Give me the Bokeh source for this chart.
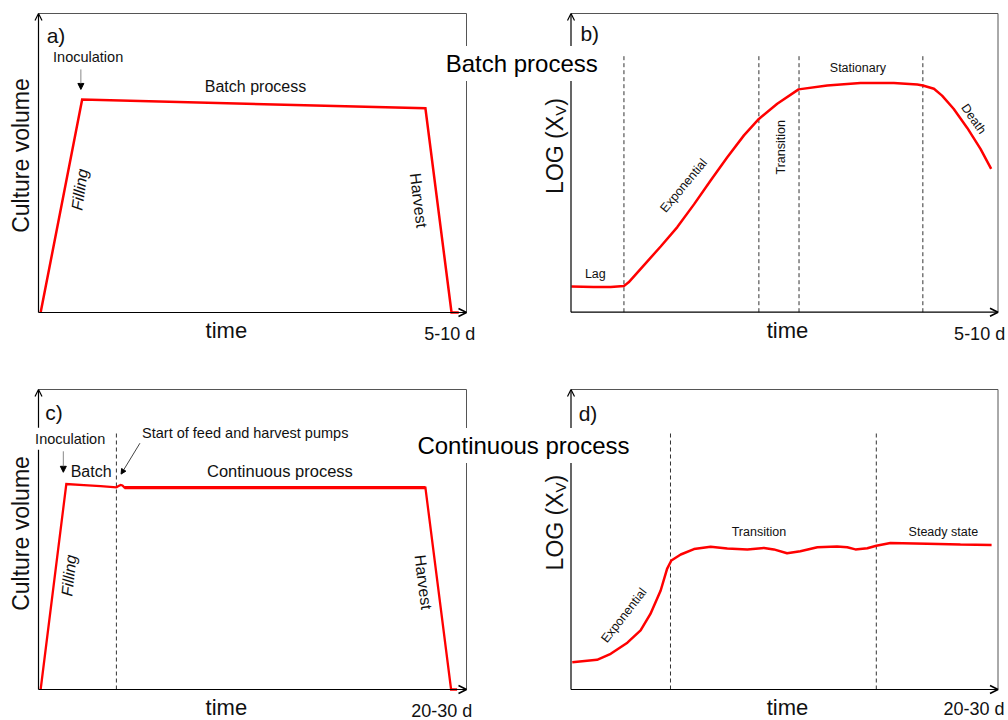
from bokeh.plotting import figure
from bokeh.models import Range1d, Arrow, OpenHead, NormalHead
from bokeh.core.properties import value
from bokeh.embed import file_html
from bokeh.resources import INLINE

W, H = 1008, 720
FONT = value("Liberation Sans")
RED = "#ff0000"
INK = "#111111"

# ---------------- data (time and value in % of each panel's axes) ----------------
# a) batch process: culture volume
a_time = [0.5, 10.2, 90.4, 96.5, 98.2]
a_volume = [0.0, 71.2, 68.3, 0.0, 0.0]

# b) batch process: LOG(Xv)
b_time = [0.1, 5.3, 9.3, 12.4, 13.5, 17.0, 21.0, 24.9, 28.8, 32.7, 36.6, 40.5, 44.0,
          48.3, 53.3, 60.0, 67.8, 75.6, 81.1, 82.4, 85.0, 86.9, 89.6, 92.8, 95.9, 98.4]
b_logxv = [8.6, 8.4, 8.4, 8.8, 10.0, 15.6, 22.0, 28.5, 36.1, 44.1, 51.9, 59.2, 64.7,
           69.8, 74.6, 75.9, 76.7, 76.7, 76.2, 75.9, 74.8, 72.5, 68.1, 61.7, 54.7, 48.0]
b_phase_bounds = [12.4, 44.0, 53.4, 82.4]

# c) continuous process: culture volume
c_time = [0.5, 6.5, 10.6, 14.5, 18.2, 18.7, 19.2, 19.6, 20.1, 20.7, 90.4, 96.4, 97.8]
c_volume = [0.0, 68.5, 68.1, 67.8, 67.4, 67.8, 68.2, 68.0, 67.3, 67.3, 67.3, 0.0, 0.0]
c_pump_start = [18.2]

# d) continuous process: LOG(Xv)
d_time = [0.3, 6.1, 9.3, 13.2, 16.3, 18.6, 21.0, 22.5, 23.5, 25.7, 28.8, 32.7, 36.6,
          41.3, 45.2, 47.5, 50.6, 53.7, 57.7, 62.3, 64.7, 66.6, 69.4, 71.5, 74.8,
          83.4, 91.2, 98.5]
d_logxv = [9.1, 9.9, 11.9, 15.6, 19.7, 25.2, 33.0, 40.2, 43.0, 45.0, 46.8, 47.6, 47.0,
           46.7, 47.2, 46.7, 45.4, 46.1, 47.4, 47.7, 47.4, 46.7, 47.1, 47.9, 48.8,
           48.6, 48.3, 48.2]
d_phase_bounds = [23.3, 71.5]

# ---------------- layout: panel frames in page pixels (left, right, top, bottom) ----------------
PANELS = {
    "a": (38, 466, 13, 312),
    "b": (570.5, 997.5, 13, 311.7),
    "c": (38, 466, 389, 689),
    "d": (570.5, 997.5, 389, 689),
}

p = figure(width=W, height=H, x_range=Range1d(0, W), y_range=Range1d(0, H),
           x_axis_type=None, y_axis_type=None, toolbar_location=None,
           output_backend="svg", min_border=0)
p.outline_line_color = None
p.background_fill_color = "white"
p.border_fill_color = "white"


def txt(r, x, y, s, size, angle=0, align="center", baseline="middle",
        style="normal", color=INK, **kw):
    p.text(x=[x], y=[y], text=[s], text_font=FONT, text_font_size=f"{size}px",
           angle=angle, angle_units="deg", text_align=align, text_baseline=baseline,
           text_font_style=style, text_color=color,
           x_range_name=r, y_range_name=r, **kw)


for name, (L, R, T, B) in PANELS.items():
    kx = 100.0 / (R - L)
    ky = 100.0 / (B - T)
    p.extra_x_ranges[name] = Range1d(-L * kx, (W - L) * kx)
    p.extra_y_ranges[name] = Range1d(-(H - B) * ky, B * ky)
    # frame (top & right)
    p.line(x=[0, 100, 100], y=[100, 100, 0], line_color="#555555", line_width=1,
           x_range_name=name, y_range_name=name)
    # axes with arrows
    p.add_layout(Arrow(end=OpenHead(size=7, line_width=1.2, line_color="black"),
                       x_start=0, y_start=0, x_end=0, y_end=100,
                       line_width=1.2, line_color="black",
                       x_range_name=name, y_range_name=name))
    p.add_layout(Arrow(end=OpenHead(size=8, line_width=1.6, line_color="black"),
                       x_start=0, y_start=0, x_end=100, y_end=0,
                       line_width=1.2, line_color="black",
                       x_range_name=name, y_range_name=name))

# ---------------- panel a ----------------
p.line(a_time, a_volume, line_color=RED, line_width=2.5, line_join="miter",
       x_range_name="a", y_range_name="a")
p.add_layout(Arrow(end=NormalHead(size=6, fill_color="black", line_color="black"),
                   x_start=9.9, y_start=81.3, x_end=9.9, y_end=74.6,
                   line_color="#888888", line_width=1, x_range_name="a", y_range_name="a"))
txt("a", 1.9, 92.8, "a)", 21, align="left")
txt("a", 11.6, 85.6, "Inoculation", 14.5)
txt("a", 50.7, 75.6, "Batch process", 16)
txt("a", 9.6, 41.1, "Filling", 16, angle=82, style="italic")
txt("a", 88.8, 37.5, "Harvest", 16, angle=-83)
txt("a", -4.0, 52.5, "Culture volume", 23, angle=90)
txt("a", 43.9, -6.0, "time", 22)
txt("a", 96.1, -7.1, "5-10 d", 18)

# ---------------- panel b ----------------
p.segment(x0=b_phase_bounds, y0=[0] * len(b_phase_bounds), x1=b_phase_bounds,
          y1=[85.9] * len(b_phase_bounds), line_color="#333333", line_width=1,
          line_dash="4 3", x_range_name="b", y_range_name="b")
p.line(b_time, b_logxv, line_color=RED, line_width=2.5, x_range_name="b", y_range_name="b")
txt("b", 2.2, 93.3, "b)", 21, align="left")
txt("b", 5.7, 12.9, "Lag", 12.5)
txt("b", 26.4, 42.4, "Exponential", 12.5, angle=50)
txt("b", 49.1, 55.2, "Transition", 12.5, angle=90)
txt("b", 67.2, 81.7, "Stationary", 12.5)
txt("b", 94.3, 64.7, "Death", 12.5, angle=-55)
txt("b", -3.7, 39.6, "LOG (X", 23, angle=90, align="left")
txt("b", -2.5, 65.8, "V", 15, angle=90, align="left")
txt("b", -3.7, 69.1, ")", 23, angle=90, align="left")
txt("b", 50.7, -6.1, "time", 22)
txt("b", 95.7, -7.2, "5-10 d", 18)

# ---------------- panel c ----------------
p.segment(x0=c_pump_start, y0=[0], x1=c_pump_start, y1=[85.4], line_color="#333333",
          line_width=1, line_dash="4 3", x_range_name="c", y_range_name="c")
p.line(c_time, c_volume, line_color=RED, line_width=2.3, line_join="miter",
       x_range_name="c", y_range_name="c")
p.line(c_time[8:11], c_volume[8:11], line_color=RED, line_width=3.2,
       x_range_name="c", y_range_name="c")
p.add_layout(Arrow(end=NormalHead(size=6, fill_color="black", line_color="black"),
                   x_start=5.8, y_start=79.4, x_end=5.8, y_end=72.4,
                   line_color="#888888", line_width=1, x_range_name="c", y_range_name="c"))
p.add_layout(Arrow(end=NormalHead(size=5, fill_color="black", line_color="black"),
                   x_start=23.7, y_start=82.1, x_end=19.3, y_end=71.8,
                   line_color="#444444", line_width=1, x_range_name="c", y_range_name="c"))
txt("c", 1.6, 92.4, "c)", 21, align="left")
txt("c", 7.4, 83.6, "Inoculation", 14.5, background_fill_color="white", padding=3,
    level="overlay")
txt("c", 12.3, 72.7, "Batch", 16)
txt("c", 48.3, 85.4, "Start of feed and harvest pumps", 14.5)
txt("c", 56.4, 72.7, "Continuous process", 16.5)
txt("c", 7.1, 38.0, "Filling", 16, angle=84, style="italic")
txt("c", 89.9, 35.8, "Harvest", 16, angle=-83)
txt("c", -4.0, 52.0, "Culture volume", 23, angle=90)
txt("c", 43.9, -5.9, "time", 22)
txt("c", 94.2, -7.0, "20-30 d", 18)

# ---------------- panel d ----------------
p.segment(x0=d_phase_bounds, y0=[0] * len(d_phase_bounds), x1=d_phase_bounds,
          y1=[85.4] * len(d_phase_bounds), line_color="#333333", line_width=1,
          line_dash="4 3", x_range_name="d", y_range_name="d")
p.line(d_time, d_logxv, line_color=RED, line_width=2.5, x_range_name="d", y_range_name="d")
txt("d", 1.8, 91.9, "d)", 21, align="left")
txt("d", 12.4, 24.7, "Exponential", 12.5, angle=52)
txt("d", 44.0, 52.4, "Transition", 12.5)
txt("d", 87.2, 52.4, "Steady state", 12.5)
txt("d", -3.7, 39.7, "LOG (X", 23, angle=90, align="left")
txt("d", -2.5, 65.7, "V", 15, angle=90, align="left")
txt("d", -3.7, 69.0, ")", 23, angle=90, align="left")
txt("d", 50.7, -5.9, "time", 22)
txt("d", 94.4, -6.4, "20-30 d", 18)

# ---------------- row titles spanning both panels (page coordinates) ----------------
txt("default", 521.2, H - 63, "Batch process", 24, color="black",
    background_fill_color="white", padding=4, level="overlay")
txt("default", 523.0, H - 445, "Continuous process", 24, color="black",
    background_fill_color="white", padding=4, level="overlay")

open("out.html", "w").write(file_html(p, INLINE))
